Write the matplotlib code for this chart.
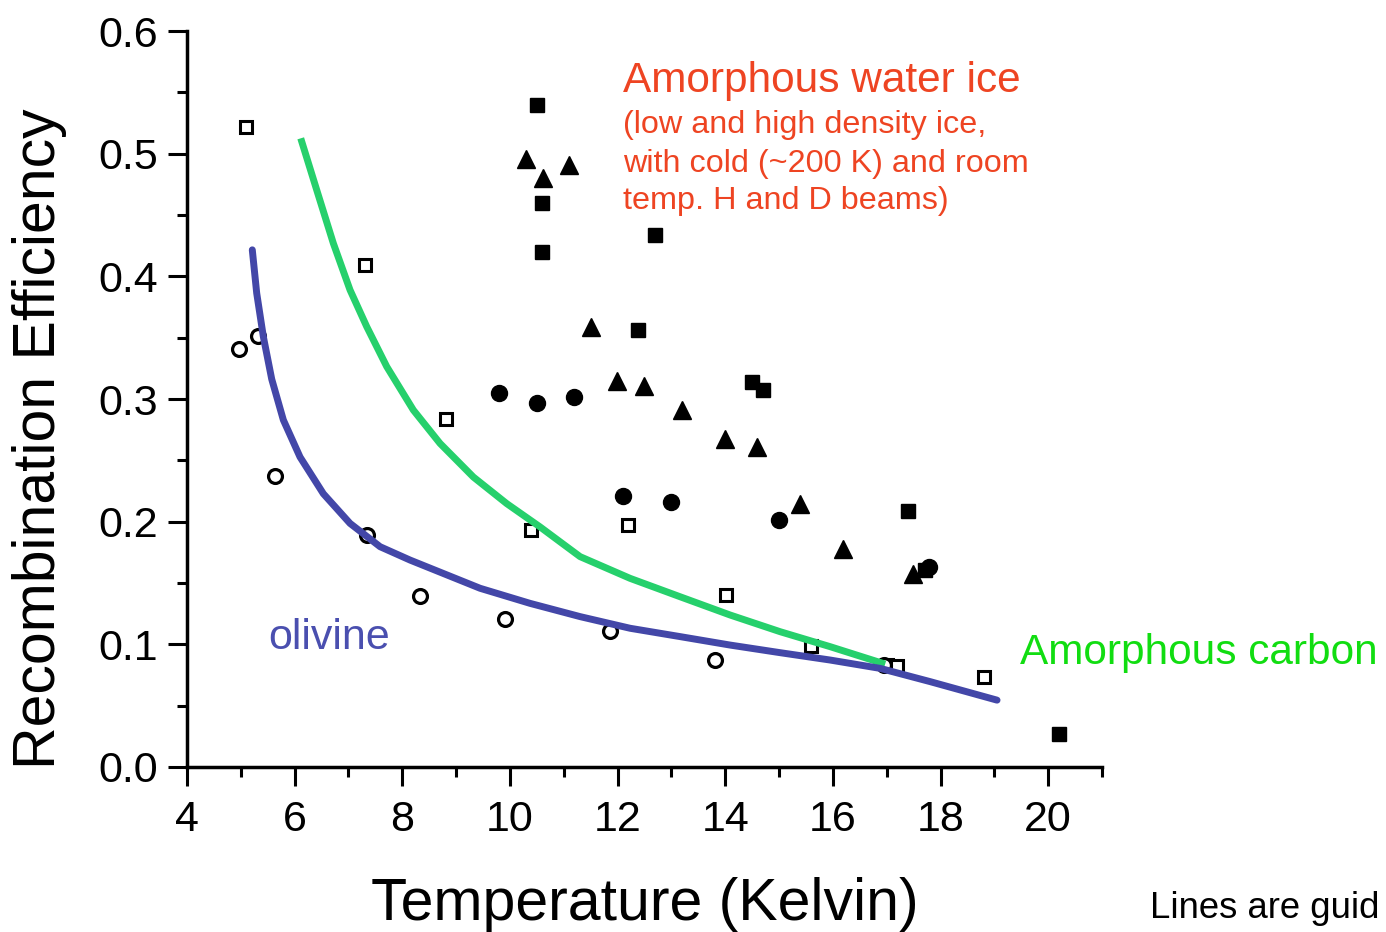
import matplotlib
matplotlib.use("Agg")
import matplotlib.pyplot as plt
from matplotlib.ticker import MultipleLocator

plt.rcParams['font.family'] = ['Liberation Sans', 'DejaVu Sans']

# ---- data ----
carbon_T = [5.10, 7.31, 8.81, 10.39, 12.20, 14.02, 15.60, 17.00, 17.19, 18.81]
carbon_E = [0.522, 0.409, 0.284, 0.193, 0.197, 0.140, 0.099, 0.083, 0.082, 0.073]

olivine_T = [4.97, 5.32, 5.64, 7.35, 8.33, 9.91, 11.86, 13.81, 16.95]
olivine_E = [0.341, 0.351, 0.237, 0.189, 0.139, 0.121, 0.111, 0.087, 0.083]

ice_sq_T = [10.50, 10.60, 10.60, 12.70, 12.38, 14.50, 14.70, 17.40, 17.72, 20.20]
ice_sq_E = [0.540, 0.460, 0.420, 0.434, 0.356, 0.314, 0.307, 0.209, 0.161, 0.027]

ice_tri_T = [10.30, 11.10, 10.62, 11.51, 11.99, 12.49, 13.20, 14.00, 14.59, 15.39, 16.19, 17.49]
ice_tri_E = [0.496, 0.491, 0.480, 0.359, 0.315, 0.311, 0.291, 0.267, 0.261, 0.214, 0.178, 0.157]

ice_circ_T = [9.80, 10.50, 11.19, 12.10, 12.99, 15.00, 17.79]
ice_circ_E = [0.305, 0.297, 0.302, 0.221, 0.216, 0.201, 0.163]

green_guide_T = [6.113, 6.410, 6.719, 7.029, 7.339, 7.711, 8.205, 8.701, 9.320, 9.941,
                 10.560, 10.931, 11.303, 12.232, 13.161, 14.091, 15.020, 15.949, 16.971]
green_guide_E = [0.5125, 0.4704, 0.4269, 0.3889, 0.3590, 0.3264, 0.2910, 0.2638, 0.2364, 0.2147,
                 0.1957, 0.1836, 0.1715, 0.1538, 0.1388, 0.1239, 0.1103, 0.0981, 0.0839]

blue_guide_T = [5.213, 5.295, 5.418, 5.574, 5.790, 6.100, 6.533, 7.029, 7.587, 8.144, 9.445,
                10.374, 11.303, 12.232, 13.161, 14.091, 15.020, 15.949, 16.878, 17.807, 19.05]
blue_guide_E = [0.4216, 0.3863, 0.3509, 0.3162, 0.2829, 0.2527, 0.2228, 0.1986, 0.1796, 0.1687, 0.1457,
                0.1334, 0.1226, 0.1131, 0.1063, 0.0994, 0.0932, 0.0872, 0.0804, 0.0696, 0.0545]

xticks = [4, 6, 8, 10, 12, 14, 16, 18, 20]
yticks = [0.0, 0.1, 0.2, 0.3, 0.4, 0.5, 0.6]

W, H = 1386, 932
fig = plt.figure(figsize=(W / 100, H / 100), dpi=100)
ax = fig.add_axes([187 / W, 1 - 767 / H, (1102 - 187) / W, (767 - 31) / H])

ax.plot(carbon_T, carbon_E, ls='none', marker='s', ms=8.5, mfc='white', mec='black', mew=2.2, zorder=2)
ax.plot(olivine_T, olivine_E, ls='none', marker='o', ms=10, mfc='white', mec='black', mew=2.3, zorder=2)
ax.plot(ice_sq_T, ice_sq_E, ls='none', marker='s', ms=10.5, color='black', zorder=2)
ax.plot(ice_tri_T, ice_tri_E, ls='none', marker='^', ms=13.5, color='black', zorder=2)
ax.plot(ice_circ_T, ice_circ_E, ls='none', marker='o', ms=11.5, color='black', zorder=2)

ax.plot(green_guide_T, green_guide_E, color='#26D06C', lw=5, solid_capstyle='butt',
        solid_joinstyle='round', zorder=3)
ax.plot(blue_guide_T, blue_guide_E, color='#4347A8', lw=5, solid_capstyle='round',
        solid_joinstyle='round', zorder=3)

ax.set_xlim(4, 21)
ax.set_ylim(0, 0.6)
ax.set_xticks(xticks)
ax.set_yticks(yticks)
ax.set_yticklabels([f'{v:.1f}' for v in yticks])
ax.xaxis.set_minor_locator(MultipleLocator(1))
ax.yaxis.set_minor_locator(MultipleLocator(0.05))
ax.tick_params(which='major', direction='out', length=14, width=2.2, labelsize=31)
ax.tick_params(axis='x', which='major', pad=10)
ax.tick_params(axis='y', which='major', pad=7)
ax.tick_params(which='minor', direction='out', length=7, width=2.2)
for s in ['top', 'right']:
    ax.spines[s].set_visible(False)
for s in ['left', 'bottom']:
    ax.spines[s].set_linewidth(2.5)

def px(x, y):
    return x / W, 1 - y / H

red = '#EE4422'
fig.text(*px(623, 92), 'Amorphous water ice', color=red, fontsize=30.5, ha='left', va='baseline')
fig.text(*px(623, 133), '(low and high density ice,', color=red, fontsize=23.3, ha='left', va='baseline')
fig.text(*px(623, 172), 'with cold (~200 K) and room', color=red, fontsize=23.3, ha='left', va='baseline')
fig.text(*px(623, 209), 'temp. H and D beams)', color=red, fontsize=23.3, ha='left', va='baseline')
fig.text(*px(268, 649), 'olivine', color='#4A4FAF', fontsize=31, ha='left', va='baseline')
fig.text(*px(1020, 664), 'Amorphous carbon', color='#11DD11', fontsize=30.5, ha='left', va='baseline')
fig.text(*px(1150, 918), 'Lines are guid', color='black', fontsize=26.3, ha='left', va='baseline')
fig.text(*px(645, 920), 'Temperature (Kelvin)', color='black', fontsize=42.5, ha='center', va='baseline')
fig.text(*px(40, 439), 'Recombination Efficiency', color='black', fontsize=42.4, ha='center', va='center', rotation=90)

fig.savefig('out.png', dpi=100)
